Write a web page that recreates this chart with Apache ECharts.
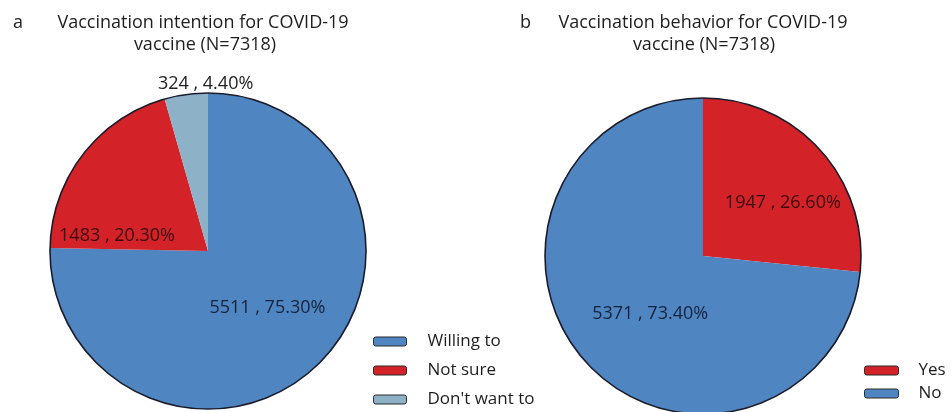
<!DOCTYPE html>
<html>
<head>
<meta charset="utf-8">
<script src="https://cdn.jsdelivr.net/npm/echarts@6/dist/echarts.min.js"></script>
<style>
  html, body { margin: 0; padding: 0; background: #ffffff; }
  #chart { width: 952px; height: 412px; }
</style>
</head>
<body>
<div id="chart"></div>
<script>
// Panel a: vaccination intention
const intentionNames = ['Willing to', 'Not sure', "Don't want to"];
const intentionCounts = [5511, 1483, 324];
const intentionPct = [75.30, 20.30, 4.40];

// Panel b: vaccination behavior
const behaviorNames = ['Yes', 'No'];
const behaviorCounts = [1947, 5371];
const behaviorPct = [26.60, 73.40];

const BLUE = '#4f85c0';
const RED = '#d42229';
const LIGHT = '#8db2c8';
const FONT = '"Open Sans", "Noto Sans", sans-serif';

const intentionColors = [BLUE, RED, LIGHT];
const behaviorColors = [RED, BLUE];
const intentionLabelColors = ['#16233f', '#3a0b0d', '#222222'];
const behaviorLabelColors = ['#3a0b0d', '#16233f'];

// label nudges from the default inside position
const intentionShift = [[2, -2], [-26, 35], [9, -86]];
const behaviorShift = [[19, 2], [8, 3]];

function pieData(names, counts, pct, colors, labelColors) {
  return names.map((n, i) => ({
    name: n,
    value: counts[i],
    pct: pct[i],
    itemStyle: { color: colors[i] },
    label: { color: labelColors[i] }
  }));
}

function labelText(p) {
  return p.value + ' , ' + p.data.pct.toFixed(2) + '%';
}

function ring(center, radius) {
  return {
    type: 'pie',
    silent: true,
    center: center,
    radius: radius,
    z: 5,
    label: { show: false },
    labelLine: { show: false },
    itemStyle: { color: 'rgba(0,0,0,0)', borderColor: '#1a1c2c', borderWidth: 1.6 },
    data: [{ value: 1, name: '' }]
  };
}

const titleStyle = { fontFamily: FONT, fontSize: 18, fontWeight: 'normal', color: '#1e1e1e' };

const option = {
  backgroundColor: '#ffffff',
  animation: false,
  title: [
    { text: 'a', left: 8, top: 9, textStyle: titleStyle },
    { text: 'Vaccination intention for COVID-19', left: 198, top: 9, textAlign: 'center', textStyle: titleStyle },
    { text: 'vaccine (N=7318)', left: 200, top: 31, textAlign: 'center', textStyle: titleStyle },
    { text: 'b', left: 515, top: 9, textStyle: titleStyle },
    { text: 'Vaccination behavior for COVID-19', left: 698, top: 9, textAlign: 'center', textStyle: titleStyle },
    { text: 'vaccine (N=7318)', left: 699, top: 31, textAlign: 'center', textStyle: titleStyle }
  ],
  legend: [
    {
      data: intentionNames,
      orient: 'vertical',
      left: 373,
      top: 333,
      padding: 0,
      icon: 'roundRect',
      itemWidth: 33,
      itemHeight: 9,
      itemGap: 12,
      itemStyle: { borderColor: '#2a2a2a', borderWidth: 1 },
      textStyle: { fontFamily: FONT, fontSize: 17, color: '#1e1e1e', padding: [0, 0, 0, 16] }
    },
    {
      data: behaviorNames,
      orient: 'vertical',
      left: 864,
      top: 362,
      padding: 0,
      icon: 'roundRect',
      itemWidth: 34,
      itemHeight: 9,
      itemGap: 6,
      itemStyle: { borderColor: '#2a2a2a', borderWidth: 1 },
      textStyle: { fontFamily: FONT, fontSize: 17, color: '#1e1e1e', padding: [0, 0, 0, 15] }
    }
  ],
  series: [
    {
      type: 'pie',
      center: [208, 251],
      radius: 158,
      startAngle: 90,
      clockwise: true,
      itemStyle: { borderWidth: 0 },
      label: { show: true, position: 'inside', formatter: labelText, fontFamily: FONT, fontSize: 18 },
      labelLine: { show: false },
      labelLayout: p => ({ dx: intentionShift[p.dataIndex][0], dy: intentionShift[p.dataIndex][1] }),
      data: pieData(intentionNames, intentionCounts, intentionPct, intentionColors, intentionLabelColors)
    },
    ring([208, 251], 158),
    {
      type: 'pie',
      center: [703, 256],
      radius: 158,
      startAngle: 90,
      clockwise: true,
      itemStyle: { borderWidth: 0 },
      label: { show: true, position: 'inside', formatter: labelText, fontFamily: FONT, fontSize: 18 },
      labelLine: { show: false },
      labelLayout: p => ({ dx: behaviorShift[p.dataIndex][0], dy: behaviorShift[p.dataIndex][1] }),
      data: pieData(behaviorNames, behaviorCounts, behaviorPct, behaviorColors, behaviorLabelColors)
    },
    ring([703, 256], 158)
  ]
};

const chart = echarts.init(document.getElementById('chart'), null, { renderer: 'canvas' });
chart.setOption(option);
</script>
</body>
</html>
